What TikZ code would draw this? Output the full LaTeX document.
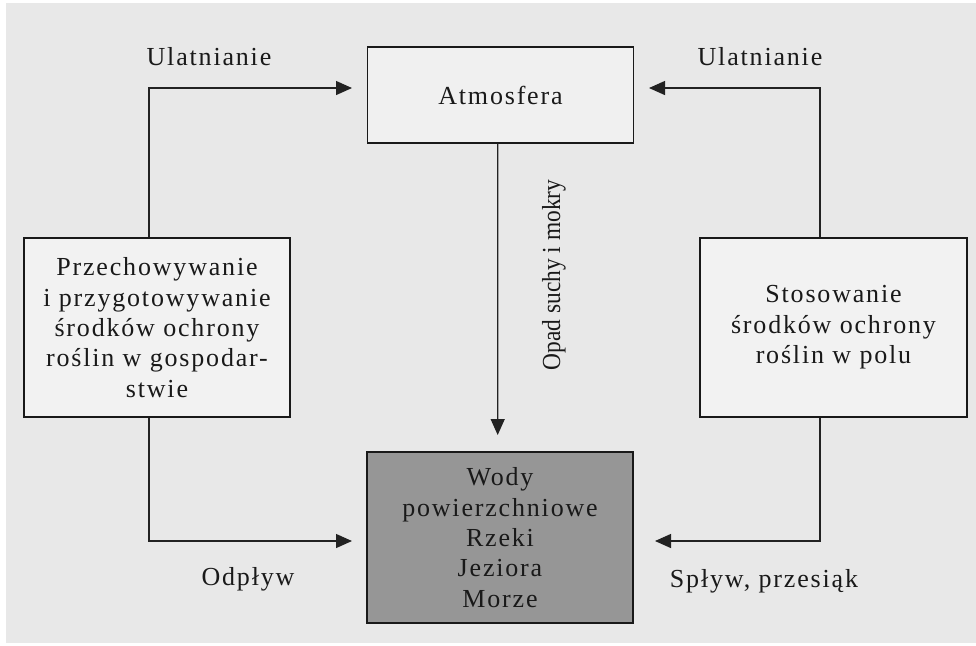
\documentclass[tikz,border=0pt]{standalone}
\usepackage{fontspec}
\setmainfont{Liberation Serif}[LetterSpace=7]
\newfontfamily\narrowserif{Liberation Serif}[FakeStretch=0.9]
\usetikzlibrary{arrows.meta}

\definecolor{bgfill}{HTML}{E8E8E8}
\definecolor{boxfill}{HTML}{F2F2F2}
\definecolor{atmfill}{HTML}{F0F0F0}
\definecolor{waterfill}{HTML}{969696}
\definecolor{linecol}{HTML}{222222}

\begin{document}
\begin{tikzpicture}[
  x=0.5pt, y=-0.5pt,
  every node/.style={font=\fontsize{13}{15.2}\selectfont, text=black!90},
  box/.style={draw=black!90, line width=0.7pt, align=center, minimum width=133pt, fill=boxfill, inner sep=0pt},
  lbl/.style={inner sep=0pt, anchor=base},
  arrow/.style={-{Triangle[length=8pt,width=7pt]}, line width=0.65pt, draw=linecol},
]

% background
\fill[white] (0,0) rectangle (976,645);
\fill[bgfill] (6,3) rectangle (976,643);
\useasboundingbox (0,0) rectangle (976,645);

% boxes
\node[box, minimum height=48pt, fill=atmfill] (atm) at (500.5,95) {Atmosfera};
\node[box, minimum height=89.5pt] (store) at (157,327.5) {Przechowywanie\\i przygotowywanie\\środków ochrony\\roślin w gospodar-\\stwie};
\node[box, minimum height=89.5pt, minimum width=133.5pt] (field) at (833.5,327.5) {Stosowanie\\środków ochrony\\roślin w polu};
\node[box, minimum height=85.5pt, fill=waterfill] (water) at (500,537.5) {Wody\\powierzchniowe\\Rzeki\\Jeziora\\Morze};

% arrow ends
\coordinate (atmL) at (352,88);
\coordinate (atmR) at (649,88);
\coordinate (watL) at (352,541);
\coordinate (watR) at (655,541);
\coordinate (watT) at (497.7,435);

\draw[arrow] ([xshift=-4pt]store.north) |- (atmL);
\draw[arrow] ([xshift=-6.75pt]field.north) |- (atmR);
\draw[arrow] ([xshift=-4pt]store.south) |- (watL);
\draw[arrow] ([xshift=-6.75pt]field.south) |- (watR);
\draw[arrow] ([xshift=-1.4pt]atm.south) -- (watT);

% labels
\node[lbl] (ulatL) at (209,65) {Ulatnianie};
\node[lbl] (ulatR) at (760,65) {Ulatnianie};
\node[lbl] (odplyw) at (248,585) {Odpływ};
\node[lbl] (splyw) at (764,587) {Spływ, przesiąk};
\node[lbl, rotate=90, font=\narrowserif\fontsize{13}{15}\selectfont] (opad) at (560,275) {Opad suchy i mokry};

\end{tikzpicture}
\end{document}
